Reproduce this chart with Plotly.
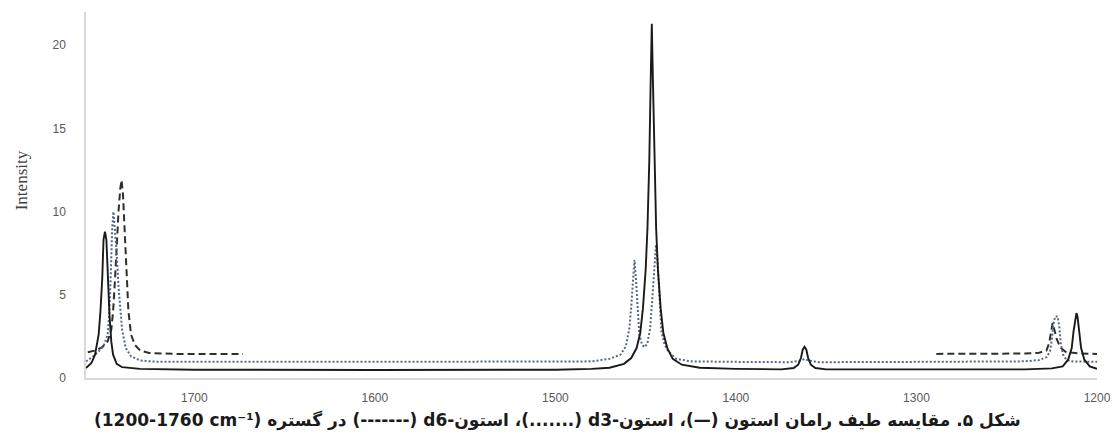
import plotly.graph_objects as go

# Acetone (solid)
acetone_wn = [1760, 1757, 1755, 1753, 1752, 1751, 1750.3, 1749.5, 1748.7, 1748, 1747, 1746, 1745, 1743, 1740, 1730,
              1700, 1600, 1500, 1480, 1470, 1462, 1458, 1455, 1453, 1451.5, 1450, 1449, 1448, 1447.2, 1446.6,
              1446.0, 1445.2, 1444.2, 1443.2, 1441.7, 1440.2, 1438, 1435, 1430, 1420, 1400,
              1375, 1368, 1365.5, 1364, 1363, 1362, 1361, 1360, 1358.5, 1356, 1350,
              1300, 1240, 1225, 1219, 1216, 1214, 1213, 1212, 1211.4, 1210.8, 1209.8, 1208.8, 1207, 1204, 1200]
acetone_int = [0.6, 0.9, 1.4, 2.6, 4.0, 6.0, 8.3, 8.8, 8.3, 6.0, 3.8, 2.2, 1.4, 0.85, 0.65, 0.55,
               0.5, 0.48, 0.5, 0.55, 0.62, 0.85, 1.2, 1.8, 2.7, 4.2, 6.5, 9.0, 13.0, 18.0, 21.3,
               18.0, 13.0, 9.0, 6.5, 4.2, 2.7, 1.8, 1.15, 0.8, 0.62, 0.55,
               0.52, 0.6, 0.8, 1.2, 1.7, 1.88, 1.7, 1.2, 0.8, 0.6, 0.52,
               0.5, 0.52, 0.58, 0.7, 1.1, 1.8, 2.8, 3.7, 3.9, 3.7, 2.8, 1.8, 1.1, 0.7, 0.55]

# Acetone-d3 (dotted)
d3_wn = [1760, 1756, 1752, 1750, 1748, 1747, 1746.2, 1745.5, 1744.8, 1744, 1743, 1742, 1741, 1740, 1738, 1735,
         1730, 1720, 1600, 1480, 1470, 1464, 1461, 1459, 1458, 1457, 1456.2, 1455.4, 1454.5, 1453.5, 1452,
         1450.5, 1449, 1447.5, 1446.3, 1445.2, 1444.3, 1443.4, 1442.4, 1441.3, 1439.5, 1437.5, 1433, 1425,
         1400, 1370, 1364, 1362, 1360, 1354, 1300, 1240, 1232, 1228, 1226, 1225, 1224.2, 1223.2, 1221.8,
         1220.8, 1220, 1218.8, 1217, 1214, 1200]
d3_int = [1.0, 1.3, 1.7, 2.0, 2.6, 4.0, 6.5, 9.0, 10.0, 9.0, 7.5, 5.5, 4.0, 2.9, 1.8, 1.3,
          1.05, 0.97, 0.97, 1.0, 1.15, 1.4, 1.9, 3.0, 4.3, 6.0, 7.1, 6.0, 4.0, 2.6, 2.0,
          1.85, 2.1, 3.0, 4.8, 7.0, 8.0, 7.0, 4.8, 2.8, 2.0, 1.6, 1.15, 1.0,
          0.97, 0.95, 1.05, 1.15, 1.05, 0.95, 0.97, 1.0, 1.08, 1.25, 1.6, 2.3, 3.2, 3.7, 3.7,
          3.0, 2.0, 1.4, 1.1, 1.0, 0.97]

# Acetone-d6 (dashed), two recorded segments
d6_wn = [1759, 1755, 1751, 1748, 1746, 1745, 1744, 1743, 1742, 1741, 1740.3, 1739.5, 1738.5, 1737.5, 1736.5,
         1735, 1733, 1730, 1725, 1710, 1673, None,
         1289, 1240, 1232, 1228, 1226.5, 1225.5, 1224.6, 1223.6, 1222.5, 1221, 1219.5, 1217, 1210, 1200]
d6_int = [1.55, 1.65, 1.85, 2.2, 2.9, 4.0, 5.8, 8.0, 10.0, 11.4, 11.9, 11.0, 8.5, 5.8, 4.0,
          2.6, 2.0, 1.65, 1.5, 1.45, 1.45, None,
          1.45, 1.47, 1.52, 1.65, 2.1, 2.8, 3.3, 2.9, 2.4, 2.0, 1.75, 1.55, 1.48, 1.45]

x_ticks = [1700, 1600, 1500, 1400, 1300, 1200]
y_ticks = [0, 5, 10, 15, 20]

caption = ("\u202bشکل ۵. مقایسه طیف رامان استون (—)، استون-d3 (.......)، استون-d6 (-------) در گستره "
           "(\u202a1200-1760 cm\u207b\u00b9\u202c)\u202c")

fig = go.Figure()
fig.add_trace(go.Scatter(x=d6_wn, y=d6_int, mode="lines", connectgaps=False,
                         line=dict(color="#2e2e2e", width=2, dash="7px,4px"), name="d6"))
fig.add_trace(go.Scatter(x=d3_wn, y=d3_int, mode="lines",
                         line=dict(color="#56658a", width=2, dash="2px,2px"), name="d3"))
fig.add_trace(go.Scatter(x=acetone_wn, y=acetone_int, mode="lines",
                         line=dict(color="#1a1a1a", width=1.9), name="acetone"))

# page shows the figure offset by the 8px body margin; size/margins compensate
fig.update_layout(
    width=1111, height=430,
    margin=dict(l=78, r=22, t=4, b=60, autoexpand=False),
    paper_bgcolor="white", plot_bgcolor="white",
    showlegend=False,
    xaxis=dict(range=[1760, 1200], tickvals=x_ticks, showgrid=False, zeroline=False, automargin=False,
               showline=True, linecolor="#d9d9d9", linewidth=1.5, ticks="", ticklen=0,
               ticklabelstandoff=8,
               tickfont=dict(family="Liberation Sans", size=12, color="#595959")),
    yaxis=dict(range=[0, 22], tickvals=y_ticks, showgrid=False, zeroline=False, automargin=False,
               showline=True, linecolor="#d9d9d9", linewidth=1.5, ticks="",
               ticklabelstandoff=16,
               tickfont=dict(family="Liberation Sans", size=12, color="#595959")),
    annotations=[
        dict(text="Intensity", xref="paper", yref="paper", x=-0.063, y=0.541, xanchor="center",
             yanchor="middle", textangle=-90, showarrow=False,
             font=dict(family="Liberation Serif", size=17, color="#404040")),
        dict(text="<b>" + caption + "</b>", xref="paper", yref="paper", x=0.466, y=-0.115,
             xanchor="center", yanchor="middle", showarrow=False,
             font=dict(family="DejaVu Sans", size=17, color="#1a1a1a")),
    ],
)

fig.write_html("out.html")
